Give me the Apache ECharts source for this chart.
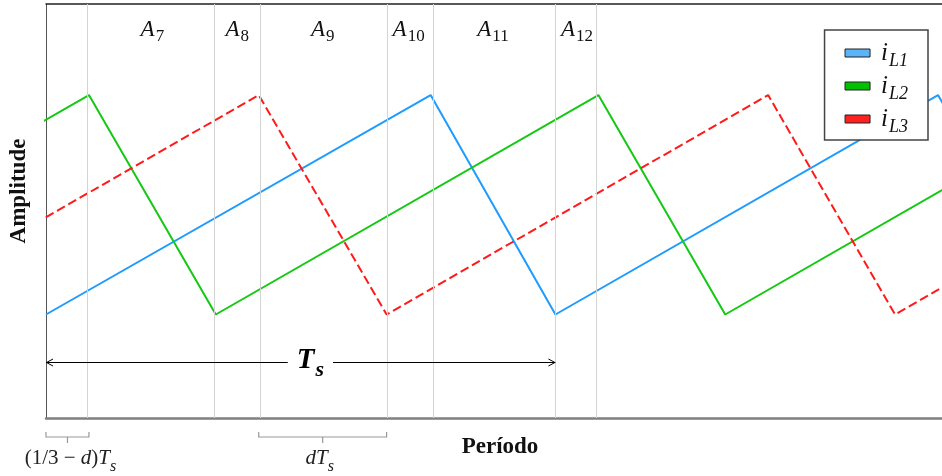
<!DOCTYPE html>
<html><head><meta charset="utf-8">
<script src="https://cdn.jsdelivr.net/npm/echarts@6/dist/echarts.min.js"></script>
<style>html,body{margin:0;padding:0;background:#fff}#c{width:942px;height:476px}</style>
</head><body><div id="c"></div>
<script>
// ---- data (time in units of Ts, amplitude normalised) ----
const seriesNames = ['iL1', 'iL2', 'iL3'];
const seriesColors = ['#1e9bff', '#14c814', '#ff1a1a'];
const legendColors = ['#5ab4f5', '#00c000', '#ff2020'];
const blueT  = [0, 0.755, 1, 1.751, 2];
const blueA  = [0.25, 0.78, 0.25, 0.78, 0.25];
const greenT = [-0.6667, 0.0843, 0.3333, 1.0843, 1.3333, 2.0843];
const greenA = [0.25, 0.78, 0.25, 0.78, 0.25, 0.78];
const redT   = [-0.3324, 0.4176, 0.6686, 1.4176, 1.6667, 2.4176];
const redA   = [0.25, 0.78, 0.25, 0.78, 0.25, 0.78];
const tMax = 1.7588;
const markerT = [0.0843, 0.3333, 0.4176, 0.6686, 0.755, 1, 1.0843];
const areaLabels = ['7', '8', '9', '10', '11', '12'];
const tsArrowT = [0, 1];
const tsArrowA = 0.135;
const tsLabelT = 0.519;
const brackets = [[0, 0.0843], [0.4176, 0.6686]];

const serif = 'Liberation Serif';
const pairs = (t, a) => t.map((v, i) => [v, a[i]]);

const areaData = areaLabels.map((s, i) => [
  { xAxis: markerT[i], name: s }, { xAxis: markerT[i + 1] }
]);

const chart = echarts.init(document.getElementById('c'));
chart.setOption({
  animation: false,
  grid: { left: 45, right: 0, top: 4, bottom: 58 },
  xAxis: [{
    type: 'value', min: 0, max: tMax,
    name: 'Período', nameLocation: 'middle', nameGap: 18,
    nameTextStyle: { fontFamily: serif, fontWeight: 'bold', fontSize: 23, color: '#111', padding: [0, 0, 0, 12] },
    axisLine: { show: true, lineStyle: { color: '#808080', width: 2.5 } },
    axisTick: { show: false }, axisLabel: { show: false }, splitLine: { show: false }
  }, {
    type: 'value', min: 0, max: tMax, position: 'top',
    axisLine: { show: true, lineStyle: { color: '#222', width: 1.5 } },
    axisTick: { show: false }, axisLabel: { show: false }, splitLine: { show: false }
  }],
  yAxis: {
    type: 'value', min: 0, max: 1,
    name: 'Amplitude', nameLocation: 'middle', nameGap: 15, nameRotate: 90,
    nameTextStyle: { fontFamily: serif, fontWeight: 'bold', fontSize: 23, color: '#111', padding: [0, 0, 0, 40] },
    axisLine: { show: true, lineStyle: { color: '#555', width: 1 } },
    axisTick: { show: false }, axisLabel: { show: false }, splitLine: { show: false }
  },
  legend: {
    orient: 'vertical', right: 14, top: 30,
    padding: [11, 20, 4, 20], itemGap: 4,
    itemWidth: 25, itemHeight: 8, icon: 'rect',
    borderColor: '#444', borderWidth: 1.5, backgroundColor: '#fff',
    data: seriesNames.map((n, i) => ({ name: n, itemStyle: { color: legendColors[i], borderColor: '#222', borderWidth: 1 } })),
    formatter: n => '{i|i}{s|' + n.slice(1) + '}',
    textStyle: {
      rich: {
        i: { fontFamily: serif, fontStyle: 'italic', fontSize: 25, lineHeight: 24, verticalAlign: 'top', padding: [0, 0, 0, 6], color: '#111' },
        s: { fontFamily: serif, fontStyle: 'italic', fontSize: 18, lineHeight: 16, verticalAlign: 'top', padding: [11, 0, 0, 1], color: '#111' }
      }
    }
  },
  series: [
    {
      name: seriesNames[0], type: 'line', data: pairs(blueT, blueA), symbol: 'none',
      lineStyle: { color: seriesColors[0], width: 2 }, itemStyle: { color: seriesColors[0] },
      z: 3,
      markLine: {
        silent: true, symbol: 'none', label: { show: false },
        lineStyle: { color: '#d4d4d4', width: 1, type: 'solid' },
        data: markerT.map(t => ({ xAxis: t }))
      },
      markArea: {
        silent: true, itemStyle: { color: 'rgba(0,0,0,0)' },
        label: {
          show: true, position: 'insideTop', distance: 14,
          formatter: p => '{a|A}{s|' + p.name + '}',
          rich: {
            a: { fontFamily: serif, fontStyle: 'italic', fontSize: 23, lineHeight: 24, verticalAlign: 'top', color: '#111' },
            s: { fontFamily: serif, fontSize: 17, lineHeight: 16, verticalAlign: 'top', padding: [10, 0, 0, 1], color: '#111' }
          }
        },
        data: areaData
      }
    },
    {
      name: seriesNames[1], type: 'line', data: pairs(greenT, greenA), symbol: 'none',
      lineStyle: { color: seriesColors[1], width: 2 }, itemStyle: { color: seriesColors[1] }, z: 3
    },
    {
      name: seriesNames[2], type: 'line', data: pairs(redT, redA), symbol: 'none',
      lineStyle: { color: seriesColors[2], width: 2, type: [9, 4] }, itemStyle: { color: seriesColors[2] }, z: 3
    }
  ]
});

const px = (t, a) => chart.convertToPixel({ xAxisIndex: 0, yAxisIndex: 0 }, [t, a]);
const g = [];

// Ts double arrow
const pa = px(tsArrowT[0], tsArrowA), pb = px(tsArrowT[1], tsArrowA);
const ay = Math.round(pa[1]) + 0.5;
const ast = { stroke: '#000', lineWidth: 1, fill: null };
g.push({ type: 'line', shape: { x1: pa[0], y1: ay, x2: pb[0], y2: ay }, style: ast, silent: true, z: 10 });
g.push({ type: 'polyline', shape: { points: [[pa[0] + 7, ay - 3.5], [pa[0] + 0.5, ay], [pa[0] + 7, ay + 3.5]] }, style: ast, silent: true, z: 10 });
g.push({ type: 'polyline', shape: { points: [[pb[0] - 7, ay - 3.5], [pb[0] - 0.5, ay], [pb[0] - 7, ay + 3.5]] }, style: ast, silent: true, z: 10 });
const pl = px(tsLabelT, tsArrowA);
g.push({
  type: 'text', x: pl[0], y: ay - 16, z: 11, silent: true,
  style: {
    text: '{t|T}{s|s}', align: 'center', verticalAlign: 'top',
    backgroundColor: '#fff', padding: [0, 9, 0, 9],
    rich: {
      t: { fontFamily: serif, fontStyle: 'italic', fontWeight: 'bold', fontSize: 29, lineHeight: 30, verticalAlign: 'top', fill: '#000' },
      s: { fontFamily: serif, fontStyle: 'italic', fontWeight: 'bold', fontSize: 22, lineHeight: 20, verticalAlign: 'top', padding: [13, 0, 0, 1], fill: '#000' }
    }
  }
});

// bracket annotations under the axis
const axisY = px(0, 0)[1];
const by = axisY + 19;
const bracketText = [
  '{n|(1/3 − }{i|d}{n|)}{i|T}{s|s}',
  '{i|dT}{s|s}'
];
const rich = {
  n: { fontFamily: serif, fontSize: 21, lineHeight: 22, verticalAlign: 'top', fill: '#222' },
  i: { fontFamily: serif, fontStyle: 'italic', fontSize: 21, lineHeight: 22, verticalAlign: 'top', fill: '#222' },
  s: { fontFamily: serif, fontStyle: 'italic', fontSize: 16, lineHeight: 14, verticalAlign: 'top', padding: [11, 0, 0, 0], fill: '#222' }
};
brackets.forEach((b, k) => {
  const x0 = px(b[0], 0)[0], x1 = px(b[1], 0)[0];
  const xm = (x0 + x1) / 2;
  const st = { stroke: '#999', lineWidth: 1.2, fill: null };
  g.push({ type: 'polyline', shape: { points: [[x0, by - 5], [x0, by], [x1, by], [x1, by - 5]] }, style: st, silent: true });
  g.push({ type: 'line', shape: { x1: xm, y1: by, x2: xm, y2: by + 6 }, style: st, silent: true });
  g.push({ type: 'text', x: xm + (k === 0 ? 3 : -3), y: by + 11, style: { text: bracketText[k], rich: rich, align: 'center', verticalAlign: 'top' }, silent: true });
});
chart.setOption({ graphic: g });
</script>
</body></html>
